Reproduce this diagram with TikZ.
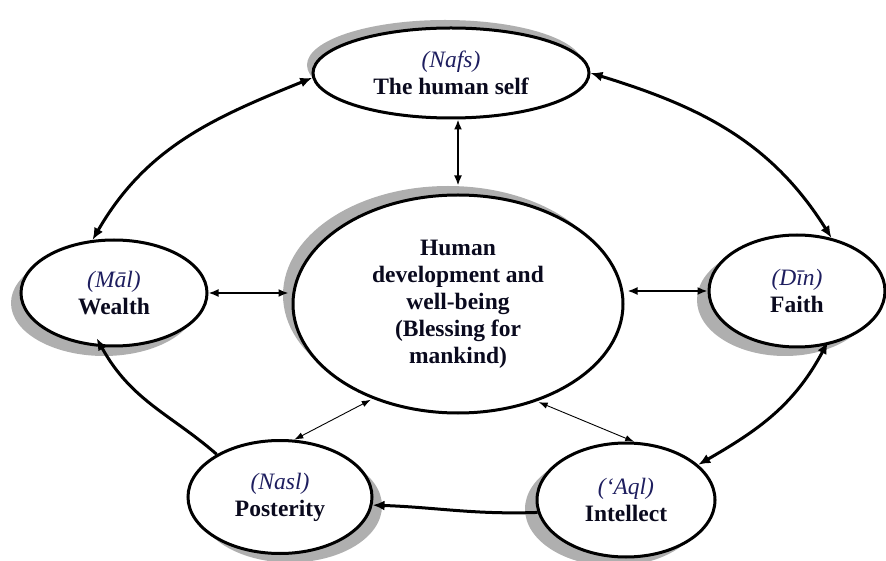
\documentclass[tikz,border=0pt]{standalone}
\usepackage{fontspec}
\setmainfont{Liberation Serif}
\usetikzlibrary{shapes.geometric,arrows.meta,shadows}
\definecolor{navy}{RGB}{30,30,95}
\definecolor{ink}{RGB}{10,10,30}
\definecolor{shade}{RGB}{175,175,175}
\begin{document}
\begin{tikzpicture}[x=1pt,y=1pt,
  oval/.style={ellipse, draw=black, line width=3pt, fill=white, inner sep=0pt,
    align=center, text=ink, font=\fontsize{23.5}{27}\selectfont\bfseries},
  shad/.style 2 args={drop shadow={shadow xshift=#1pt, shadow yshift=#2pt, fill=shade, opacity=1}},
  bigarr/.style={line width=3pt, {Latex[length=12pt,width=10pt]}-{Latex[length=12pt,width=10pt]}},
  bigone/.style={line width=3pt, -{Latex[length=12pt,width=10pt]}},
  midarr/.style={line width=1.8pt, {Latex[length=10pt,width=8pt]}-{Latex[length=10pt,width=8pt]}},
  thinarr/.style={line width=0.9pt, {Latex[length=9pt,width=6.5pt]}-{Latex[length=9pt,width=6.5pt]}}
]
\useasboundingbox (0,0) rectangle (886,560);

\node[oval, shad={-6}{8}, minimum width=276pt, minimum height=90pt] (nafs) at (451,487)
  {{\color{navy}\mdseries\itshape (Nafs)}\\The human self};
\node[oval, shad={-10}{9}, minimum width=330pt, minimum height=218pt] (center) at (458,256)
  {Human\\development and\\well-being\\(Blessing for\\mankind)};
\node[oval, shad={-10}{-10}, minimum width=186pt, minimum height=106pt] (wealth) at (114,267)
  {{\color{navy}\mdseries\itshape (Māl)}\\Wealth};
\node[oval, shad={-12}{-9}, minimum width=176pt, minimum height=112pt] (faith) at (797,269)
  {{\color{navy}\mdseries\itshape (Dīn)}\\Faith};
\node[oval, shad={10}{-9}, minimum width=184pt, minimum height=113pt] (nasl) at (280,63)
  {{\color{navy}\mdseries\itshape (Nasl)}\\Posterity};
\node[oval, shad={-12}{-9}, minimum width=178pt, minimum height=114pt] (aql) at (626,60)
  {{\color{navy}\mdseries\itshape (‘Aql)}\\Intellect};

% straight connectors to the centre
\draw[midarr, shorten >=8pt] (center.north |- nafs.south) -- (center.north);
\draw[midarr, shorten >=3pt] (wealth.east) -- (wealth.east -| center.west);
\draw[midarr, shorten <=3pt] (faith.west -| center.east) -- (faith.west);
\draw[thinarr, shorten <=2pt] (center.228.5) -- (nasl.76);
\draw[thinarr, shorten <=2pt] (center.309.8) -- (aql.82);

% outer ring
\draw[bigarr] (wealth.112) to[out=60, in=202] (nafs.182);
\draw[bigarr] (nafs.0) to[out=-17, in=122] (faith.57);
\draw[bigarr, shorten <=-4pt] (faith.298) to[out=-118, in=30] (aql.26);
\draw[bigone] (aql.188) to[out=182, in=-2] (nasl.355);
\draw[bigone, shorten >=-10pt] (nasl.146) to[out=139, in=-61] (wealth.257);
\end{tikzpicture}
\end{document}
